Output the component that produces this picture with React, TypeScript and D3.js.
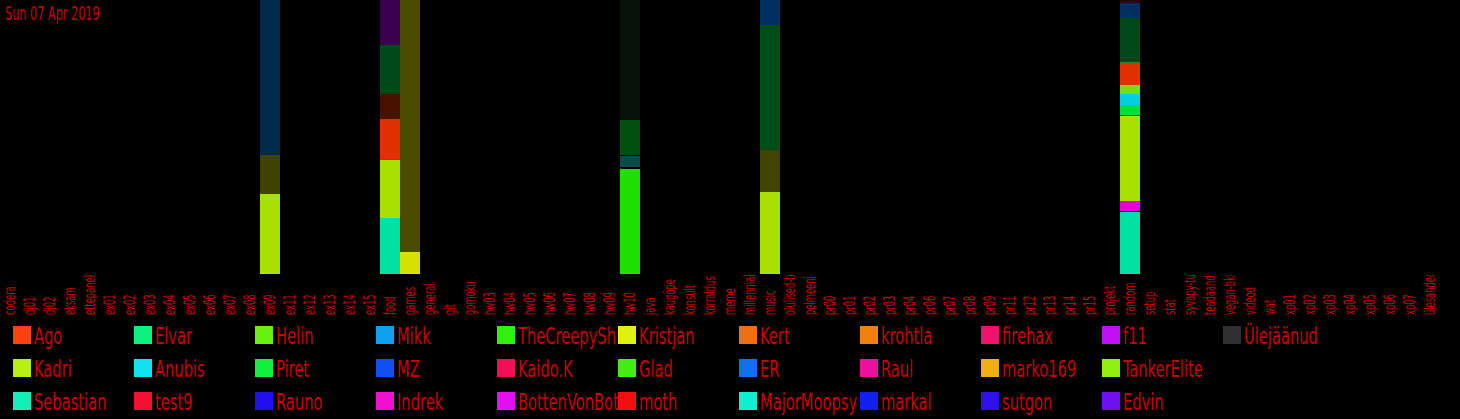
import React from "react";
import * as d3 from "d3";

const title = "Sun 07 Apr 2019";

const categories = [
  "codera", "dj01", "dj02", "eksam", "ettepanek", "ex01", "ex02", "ex03", "ex04", "ex05",
  "ex06", "ex07", "ex08", "ex09", "ex11", "ex12", "ex13", "ex14", "ex15", "food",
  "games", "general", "git", "gomoku", "hw03", "hw04", "hw05", "hw06", "hw07", "hw08",
  "hw09", "hw10", "java", "kaugõpe", "konsult", "korraldus", "meme", "millennials", "music", "olulised-teated",
  "pelmeeni-klubi", "pr00", "pr01", "pr02", "pr03", "pr04", "pr06", "pr07", "pr08", "pr09",
  "pr11", "pr12", "pr13", "pr14", "pr15", "projekt", "random", "setup", "stat", "syvapy-tund",
  "teadaanded", "vegan-bkl", "videod", "wat", "xp01", "xp02", "xp03", "xp04", "xp05", "xp06",
  "xp07", "ülesanded",
];

// legend (column-major order)
const users = [
  "Ago", "Kadri", "Sebastian", "Elvar", "Anubis", "test9", "Helin", "Piret", "Rauno",
  "Mikk", "MZ", "Indrek", "TheCreepySh", "Kaido.K", "BottenVonBot", "Kristjan", "Glad", "moth",
  "Kert", "ER", "MajorMoopsy", "krohtla", "Raul", "markal", "firehax", "marko169", "sutgon",
  "f11", "TankerElite", "Edvin", "Ülejäänud",
];
const userColors = [
  "#ff4010", "#b8f010", "#10f0b8", "#10f080", "#10e0f0", "#f01030", "#68f010", "#10f040", "#2010f0",
  "#10a0f0", "#1050f0", "#f010d0", "#30f010", "#f01058", "#e010f0", "#e0f010", "#40f010", "#f01010",
  "#f07010", "#1070f0", "#10f0d0", "#f08010", "#f010a0", "#1020f0", "#f01070", "#f0b010", "#3010f0",
  "#c010f0", "#90f010", "#7010f0", "#303030",
];

// stacked segments per channel, bottom to top: [user, messages, shade]
const ex09Segments: [string, number, string][] = [
  ["Kadri", 80, "#a8e000"], ["Kristjan", 39, "#3e4400"], ["Mikk", 155, "#002a4a"],
];
const foodSegments: [string, number, string][] = [
  ["Sebastian", 56, "#00e0a0"], ["Kadri", 58, "#a8e000"], ["moth", 1, "#ff1010"], ["Ago", 40, "#e03000"],
  ["test9", 25, "#4a1000"], ["Piret", 49, "#004818"], ["Edvin", 45, "#3a0050"],
];
const gamesSegments: [string, number, string][] = [
  ["Kristjan", 22, "#d8e000"], ["Kadri", 252, "#4a4a00"],
];
const hw10Segments: [string, number, string][] = [
  ["Glad", 105, "#20e000"], ["Ülejäänud", 2, "#000000"], ["Anubis", 11, "#0e4a4a"],
  ["Ülejäänud", 1, "#000000"], ["Piret", 35, "#005010"], ["TheCreepySh", 120, "#0a100a"],
];
const musicSegments: [string, number, string][] = [
  ["Kadri", 82, "#a8e000"], ["Kristjan", 42, "#404400"], ["Piret", 125, "#004e18"], ["Mikk", 25, "#003060"],
];
const randomSegments: [string, number, string][] = [
  ["Sebastian", 62, "#00e0a0"], ["Ülejäänud", 1, "#000000"], ["BottenVonBot", 10, "#e000e0"],
  ["Kadri", 85, "#a8e000"], ["Ülejäänud", 1, "#504000"], ["Piret", 10, "#00e040"], ["Anubis", 11, "#00d0e0"],
  ["Helin", 9, "#70e010"], ["Ago", 22, "#e03000"], ["Elvar", 1, "#208040"], ["Piret", 44, "#004818"],
  ["Mikk", 15, "#003060"], ["Edvin", 3, "#300010"],
];

const channelSegments: [string, [string, number, string][]][] = [
  ["ex09", ex09Segments], ["food", foodSegments], ["games", gamesSegments],
  ["hw10", hw10Segments], ["music", musicSegments], ["random", randomSegments],
];

const W = 1460;
const H = 419;
const TEXT = "#c80000";
const FONT = "'DejaVu Sans Condensed', 'Liberation Sans Narrow', sans-serif";

export default function App() {
  const x = d3.scaleBand<string>().domain(categories).range([0, 1440]).padding(0);
  const y = d3.scaleLinear().domain([0, 1]).range([274, 0]);

  const rects: JSX.Element[] = [];
  channelSegments.forEach(([ch, segs]) => {
    const total = d3.sum(segs, (s) => s[1]);
    let acc = 0;
    segs.forEach(([user, v, fill], i) => {
      const y0 = acc / total;
      acc += v;
      const y1 = acc / total;
      rects.push(
        <rect key={ch + i} x={x(ch)} width={x.bandwidth()} y={y(y1)} height={y(y0) - y(y1)} fill={fill}>
          <title>{user}</title>
        </rect>
      );
    });
  });

  const colW = 121;
  const rowH = 33;

  return (
    <svg width={W} height={H} style={{ position: "absolute", left: 0, top: 0, background: "#000", display: "block" }}>
      <defs>
        <clipPath id="labelClip">
          <rect x={0} y={275} width={W} height={45} />
        </clipPath>
        {users.map((u, i) => {
          const col = Math.floor(i / 3);
          return (
            <clipPath id={"lc" + i} key={u}>
              <rect x={13 + col * colW + 20} y={318} width={colW - 20} height={100} />
            </clipPath>
          );
        })}
      </defs>
      <rect x={0} y={0} width={W} height={H} fill="#000" />
      {rects}
      <text fill={TEXT} fontFamily={FONT} fontSize={19} transform="translate(5,20) scale(0.66,1)">
        {title}
      </text>
      <g clipPath="url(#labelClip)">
        {categories.map((c) => {
          const cx = (x(c) ?? 0) + x.bandwidth() / 2 + 5;
          return (
            <text key={c} fill={TEXT} fontFamily={FONT} fontSize={15}
              transform={`translate(${cx},315) rotate(-90) scale(0.62,1)`}>
              {c}
            </text>
          );
        })}
      </g>
      {users.map((u, i) => {
        const col = Math.floor(i / 3);
        const row = i % 3;
        const sx = 13 + col * colW;
        const sy = 326 + row * rowH;
        return (
          <g key={u}>
            <rect x={sx} y={sy} width={18} height={18} fill={userColors[i]} />
            <g clipPath={`url(#lc${i})`}>
              <text fill={TEXT} fontFamily={FONT} fontSize={23}
                transform={`translate(${sx + 21},${sy + 18}) scale(0.71,1)`}>
                {u}
              </text>
            </g>
          </g>
        );
      })}
    </svg>
  );
}
